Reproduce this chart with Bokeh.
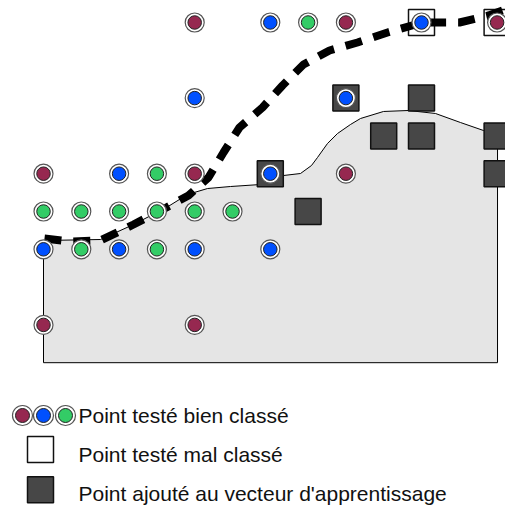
from bokeh.plotting import figure
from bokeh.layouts import column
from bokeh.models import Range1d
from bokeh.core.properties import value
from bokeh.embed import file_html
from bokeh.resources import INLINE

# ---- data (grid units: column index, row index counted from the top) ----
red_cols = [4, 8, 12, 0, 4, 8, 0, 4]
red_rows = [0, 0, 0, 4, 4, 4, 8, 8]
blue_cols = [6, 10, 4, 8, 2, 6, 0, 2, 4, 6]
blue_rows = [0, 0, 2, 2, 4, 4, 6, 6, 6, 6]
green_cols = [7, 3, 0, 1, 2, 3, 4, 5, 1, 3]
green_rows = [0, 4, 5, 5, 5, 5, 5, 5, 6, 6]
wrong_cols = [10, 12]
wrong_rows = [0, 0]
added_cols = [8, 10, 9, 10, 12, 6, 12, 7]
added_rows = [2, 2, 3, 3, 3, 4, 4, 5]

region_cols = [0, 0, 1.508, 2.381, 3.254, 3.810, 4.339, 4.947, 5.741, 6.349, 6.799,
               7.090, 7.249, 7.513, 7.778, 8.122, 8.386, 8.995, 9.656, 10.370,
               11.032, 11.640, 12.011, 12.011]
region_rows = [9.0, 5.767, 5.741, 5.344, 4.894, 4.550, 4.392, 4.339, 4.286, 4.048, 3.995,
               3.783, 3.571, 3.201, 2.937, 2.698, 2.540, 2.354, 2.328, 2.407,
               2.646, 2.857, 2.989, 9.0]

dash_cols = [0.026, 0.714, 1.508, 2.381, 3.254, 3.836, 4.365, 4.762, 5.185, 5.794,
             6.323, 6.878, 7.566, 8.307, 9.101, 10.026, 11.005, 11.772, 12.222]
dash_rows = [5.714, 5.794, 5.767, 5.344, 4.894, 4.577, 4.101, 3.439, 2.778, 2.249,
             1.667, 1.111, 0.741, 0.529, 0.265, 0.0, 0.0, -0.185, -0.344]

legend_labels = ["Point testé bien classé", "Point testé mal classé",
                 "Point ajouté au vecteur d'apprentissage"]

# ---- styles ----
RED = "#962850"
BLUE = "#0050ff"
GREEN = "#33cc66"
DARK = "#474747"
GRAY = "#e5e5e5"

# ---- layout (pixel geometry of the grid in the picture) ----
ORIGIN_X, ORIGIN_Y, STEP = 43.0, 22.0, 37.8
W = 505
H_MAIN = 390
H_LEG = 115

def to_col(px):
    return (px - ORIGIN_X) / STEP

def to_row(py):
    return (py - ORIGIN_Y) / STEP

p = figure(width=W, height=H_MAIN, output_backend="svg", toolbar_location=None,
           x_range=Range1d(to_col(0), to_col(W)),
           y_range=Range1d(to_row(H_MAIN), to_row(0)),
           min_border=0, outline_line_color=None)
p.axis.visible = False
p.grid.visible = False

p.patch(region_cols, region_rows, fill_color=GRAY, line_color="black", line_width=1)

def squares(fig, xs, ys, fill):
    fig.scatter(xs, ys, marker="square", size=26, fill_color=fill,
                line_color="#111111", line_width=1.5)

squares(p, wrong_cols, wrong_rows, "white")
squares(p, added_cols, added_rows, DARK)

p.line(dash_cols, dash_rows, line_color="black", line_width=8,
       line_dash="17 12", line_cap="butt")

def dots(fig, xs, ys, color, outer=19, inner=13.5):
    fig.scatter(xs, ys, marker="circle", size=outer, fill_color="white",
                line_color="#555555", line_width=1.2)
    fig.scatter(xs, ys, marker="circle", size=inner, fill_color=color,
                line_color="#222222", line_width=1)

dots(p, red_cols, red_rows, RED)
dots(p, blue_cols, blue_rows, BLUE)
dots(p, green_cols, green_rows, GREEN)

# ---- legend ----
top = H_MAIN
lg = figure(width=W, height=H_LEG, output_backend="svg", toolbar_location=None,
            x_range=Range1d(0, W), y_range=Range1d(top + H_LEG, top),
            min_border=0, outline_line_color=None)
lg.axis.visible = False
lg.grid.visible = False

dots(lg, [22], [415], RED, outer=20, inner=14)
dots(lg, [43], [415], BLUE, outer=20, inner=14)
dots(lg, [65], [415], GREEN, outer=20, inner=14)
squares(lg, [40], [449], "white")
squares(lg, [40], [489.3], DARK)
lg.text([78, 78, 78], [415.4, 454.4, 492.5], text=legend_labels,
        text_font=value("Liberation Sans"), text_font_size="21px",
        text_color="#111111", text_baseline="middle", text_align="left")

layout = column(p, lg, spacing=0)

open("out.html", "w").write(file_html(layout, INLINE))
